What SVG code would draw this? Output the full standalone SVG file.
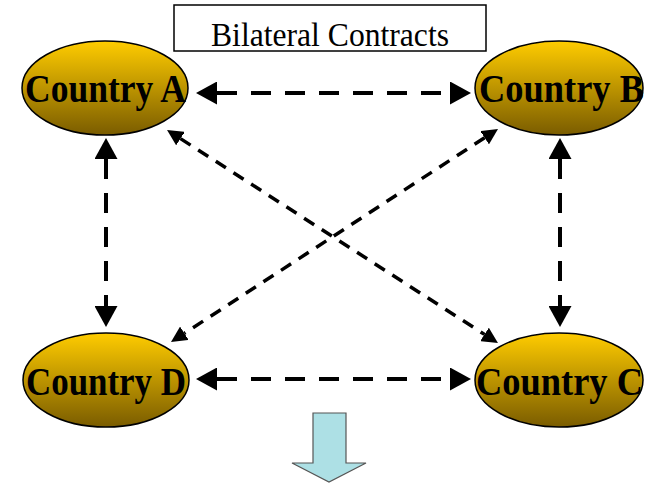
<svg xmlns="http://www.w3.org/2000/svg" width="650" height="483" viewBox="0 0 650 483">
  <style>
    .node ellipse { fill: url(#gold); stroke: #000; stroke-width: 1.5; }
    .node text { font-family: "Liberation Serif", "Times New Roman", serif; font-weight: bold; font-size: 40px; fill: #000; }
    .thick { fill: none; stroke: #000; stroke-width: 4; stroke-dasharray: 20 14; marker-start: url(#bigHead); marker-end: url(#bigHead); }
    .thin { fill: none; stroke: #000; stroke-width: 3.5; stroke-dasharray: 12 9; marker-start: url(#smallHead); marker-end: url(#smallHead); }
    .title { font-family: "Liberation Serif", "Times New Roman", serif; font-size: 34px; fill: #000; }
  </style>
  <defs>
    <linearGradient id="gold" x1="0" y1="0" x2="0" y2="1">
      <stop offset="0" stop-color="#FFCC00"/>
      <stop offset="1" stop-color="#7A5C00"/>
    </linearGradient>
    <marker id="bigHead" markerUnits="userSpaceOnUse" markerWidth="21" markerHeight="23" refX="0" refY="11.5" orient="auto-start-reverse" viewBox="0 0 21 23">
      <path d="M0,0 L21,11.5 L0,23 z" fill="#000"/>
    </marker>
    <marker id="smallHead" markerUnits="userSpaceOnUse" markerWidth="16" markerHeight="16" refX="0" refY="8" orient="auto-start-reverse" viewBox="0 0 16 16">
      <path d="M0,0 L16,8 L0,16 z" fill="#000"/>
    </marker>
  </defs>
  <rect width="650" height="483" fill="#fff"/>

  <g id="title">
    <rect x="174" y="5" width="312" height="46" fill="#fff" stroke="#000" stroke-width="1.5"/>
    <text class="title" x="211" y="46" textLength="238" lengthAdjust="spacingAndGlyphs">Bilateral Contracts</text>
  </g>

  <g id="connectors">
    <path class="thick" d="M217,93 L450,93"/>
    <path class="thick" d="M217,379 L450,379"/>
    <path class="thick" d="M106,159 L106,306"/>
    <path class="thick" d="M560,159 L560,306"/>
    <path class="thin" d="M180.5,138.6 L484.5,334.4"/>
    <path class="thin" d="M484.6,137.7 L184.4,333.3"/>
  </g>

  <g id="countryA" class="node">
    <ellipse cx="105" cy="88" rx="83" ry="47"/>
    <text x="25" y="102" textLength="161" lengthAdjust="spacingAndGlyphs">Country A</text>
  </g>
  <g id="countryB" class="node">
    <ellipse cx="559" cy="88" rx="84" ry="47"/>
    <text x="479" y="102" textLength="165" lengthAdjust="spacingAndGlyphs">Country B</text>
  </g>
  <g id="countryD" class="node">
    <ellipse cx="106" cy="380" rx="83" ry="47"/>
    <text x="26" y="395" textLength="160" lengthAdjust="spacingAndGlyphs">Country D</text>
  </g>
  <g id="countryC" class="node">
    <ellipse cx="559" cy="380" rx="84" ry="47"/>
    <text x="476" y="395" textLength="167" lengthAdjust="spacingAndGlyphs">Country C</text>
  </g>

  <g id="downArrow">
    <path d="M313,413 L346,413 L346,463 L366,463 L329,482 L292,463 L313,463 z" fill="#ADE0E5" stroke="#555" stroke-width="1.2"/>
  </g>
</svg>
